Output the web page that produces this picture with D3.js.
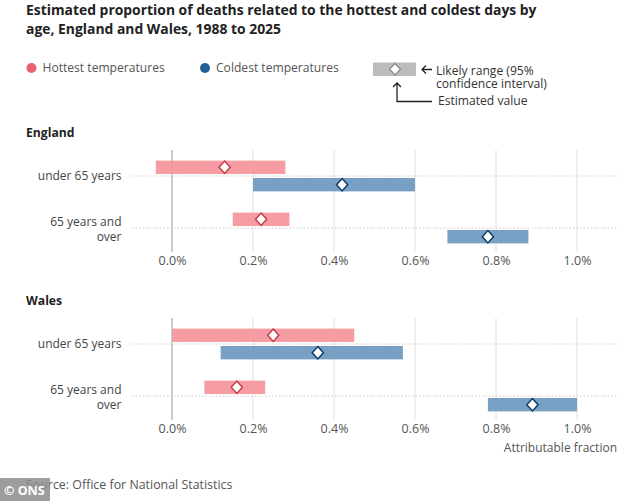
<!DOCTYPE html>
<html>
<head>
<meta charset="utf-8">
<script src="https://cdn.jsdelivr.net/npm/d3@7"></script>
<style>
  body { margin: 0; background: #fff; }
  svg { font-family: "Open Sans", sans-serif; }
</style>
</head>
<body>
<svg id="chart" width="634" height="501"></svg>
<script>
// values in percent
var countries = ["England", "Wales"];
var ages = ["under 65 years", "65 years and over"];
var series = ["Hottest temperatures", "Coldest temperatures"];
var ticks = [0, 0.2, 0.4, 0.6, 0.8, 1.0];

// [age][series] = low, estimate, high
var englandLow  = [[-0.04, 0.20], [0.15, 0.68]];
var englandEst  = [[0.13, 0.42], [0.22, 0.78]];
var englandHigh = [[0.28, 0.60], [0.29, 0.88]];

var walesLow  = [[0.00, 0.12], [0.08, 0.78]];
var walesEst  = [[0.25, 0.36], [0.16, 0.89]];
var walesHigh = [[0.45, 0.57], [0.23, 1.00]];

var barColor = {"Hottest temperatures": "#f5959c", "Coldest temperatures": "#6c98c0"};
var dotColor = {"Hottest temperatures": "#e8636d", "Coldest temperatures": "#206095"};
var edgeColor = {"Hottest temperatures": "#c83c4b", "Coldest temperatures": "#0f3c64"};

var svg = d3.select("#chart");

var x = d3.scaleLinear().domain([0, 1]).range([172, 577]);

// title
var title = svg.append("g").attr("font-weight", 700).attr("font-size", 13.9).attr("fill", "#222");
title.append("text").attr("x", 26).attr("y", 15).text("Estimated proportion of deaths related to the hottest and coldest days by");
title.append("text").attr("x", 26).attr("y", 34).text("age, England and Wales, 1988 to 2025");

// legend
var legend = svg.append("g").attr("font-size", 12.1).attr("fill", "#555");
[[31.5, 42.5], [205, 216]].forEach(function(p, i) {
  legend.append("circle").attr("cx", p[0]).attr("cy", 68).attr("r", 5).attr("fill", dotColor[series[i]]);
  legend.append("text").attr("x", p[1]).attr("y", 72).text(series[i]);
});

// key box
var key = svg.append("g");
key.append("rect").attr("x", 373).attr("y", 62.5).attr("width", 43).attr("height", 13.5).attr("fill", "#bcbcbc");
key.append("path").attr("d", "M395,63.5 L400.5,69.25 L395,75 L389.5,69.25 Z")
  .attr("fill", "#fff").attr("stroke", "#8a8a8a").attr("stroke-width", 1.3);
key.append("path").attr("d", "M432,69.5 H422 M426,65.5 L422,69.5 L426,73.5")
  .attr("fill", "none").attr("stroke", "#222").attr("stroke-width", 1.3);
key.append("path").attr("d", "M397,83 V101.5 H432 M393,87 L397,83 L401,87")
  .attr("fill", "none").attr("stroke", "#222").attr("stroke-width", 1.3);
var keyText = key.append("g").attr("font-size", 12.1).attr("fill", "#333");
keyText.append("text").attr("x", 436).attr("y", 75).text("Likely range (95%");
keyText.append("text").attr("x", 436).attr("y", 87.5).text("confidence interval)");
keyText.append("text").attr("x", 438).attr("y", 104.5).text("Estimated value");

var panels = [
  {name: countries[0], top: 150, low: englandLow, est: englandEst, high: englandHigh},
  {name: countries[1], top: 318, low: walesLow, est: walesEst, high: walesHigh}
];

var inner = d3.scaleBand().domain(series).range([-15.4, 15.4]).paddingInner(0.23);

panels.forEach(function(pn) {
  var g = svg.append("g");
  var y = d3.scaleBand().domain(ages).range([pn.top, pn.top + 104]);

  g.append("text").attr("x", 26).attr("y", pn.top - 13)
    .attr("font-size", 12.2).attr("font-weight", 700).attr("fill", "#222").text(pn.name);

  // gridlines
  g.selectAll(".grid").data(ticks).enter().append("line")
    .attr("x1", function(d) { return x(d); }).attr("x2", function(d) { return x(d); })
    .attr("y1", pn.top).attr("y2", pn.top + 102)
    .attr("stroke", function(d) { return d === 0 ? "#999" : "#e0e0e0"; })
    .attr("stroke-width", 1);

  // dotted row lines
  g.selectAll(".row").data(ages).enter().append("line")
    .attr("x1", 132).attr("x2", 617)
    .attr("y1", function(d) { return y(d) + y.bandwidth() / 2; })
    .attr("y2", function(d) { return y(d) + y.bandwidth() / 2; })
    .attr("stroke", "#ccc").attr("stroke-dasharray", "1.5,2");

  // row labels
  var lab = g.append("g").attr("font-size", 12).attr("fill", "#444").attr("text-anchor", "end");
  lab.append("text").attr("x", 121.5).attr("y", y(ages[0]) + y.bandwidth() / 2 + 4.3).text("under 65 years");
  lab.append("text").attr("x", 121.5).attr("y", y(ages[1]) + y.bandwidth() / 2 - 1.8).text("65 years and");
  lab.append("text").attr("x", 121.5).attr("y", y(ages[1]) + y.bandwidth() / 2 + 13.3).text("over");

  var rows = [];
  ages.forEach(function(a, i) {
    series.forEach(function(s, j) {
      rows.push({age: a, s: s, low: pn.low[i][j], est: pn.est[i][j], high: pn.high[i][j]});
    });
  });

  g.selectAll(".bar").data(rows).enter().append("rect")
    .attr("x", function(d) { return x(d.low); })
    .attr("width", function(d) { return x(d.high) - x(d.low); })
    .attr("y", function(d) { return y(d.age) + y.bandwidth() / 2 + inner(d.s); })
    .attr("height", inner.bandwidth())
    .attr("fill", function(d) { return barColor[d.s]; })
    .attr("fill-opacity", 0.92);

  g.selectAll(".est").data(rows).enter().append("path")
    .attr("transform", function(d) {
      return "translate(" + x(d.est) + "," + (y(d.age) + y.bandwidth() / 2 + inner(d.s) + inner.bandwidth() / 2) + ")";
    })
    .attr("d", "M0,-6.2 L5.6,0 L0,6.2 L-5.6,0 Z")
    .attr("fill", "#fff")
    .attr("stroke", function(d) { return edgeColor[d.s]; })
    .attr("stroke-width", 1.5);

  var axis = g.append("g").attr("transform", "translate(0," + (pn.top + 102) + ")")
    .call(d3.axisBottom(x).tickValues(ticks).tickSize(0).tickPadding(4)
      .tickFormat(function(d) { return d.toFixed(1) + "%"; }));
  axis.select(".domain").remove();
  axis.selectAll("text").attr("font-size", 12.5).attr("fill", "#555").attr("font-family", "Open Sans, sans-serif");
});

svg.append("text").attr("x", 617).attr("y", 452).attr("text-anchor", "end")
  .attr("font-size", 12).attr("fill", "#555").text("Attributable fraction");

svg.append("text").attr("x", 26).attr("y", 489)
  .attr("font-size", 12.4).attr("fill", "#555").text("Source: Office for National Statistics");

svg.append("rect").attr("x", 0).attr("y", 478).attr("width", 50).attr("height", 23).attr("fill", "rgba(140,140,140,0.85)");
svg.append("text").attr("x", 4).attr("y", 494.5).attr("font-size", 12.5).attr("font-weight", 700)
  .attr("fill", "#fff").text("© ONS");
</script>
</body>
</html>
